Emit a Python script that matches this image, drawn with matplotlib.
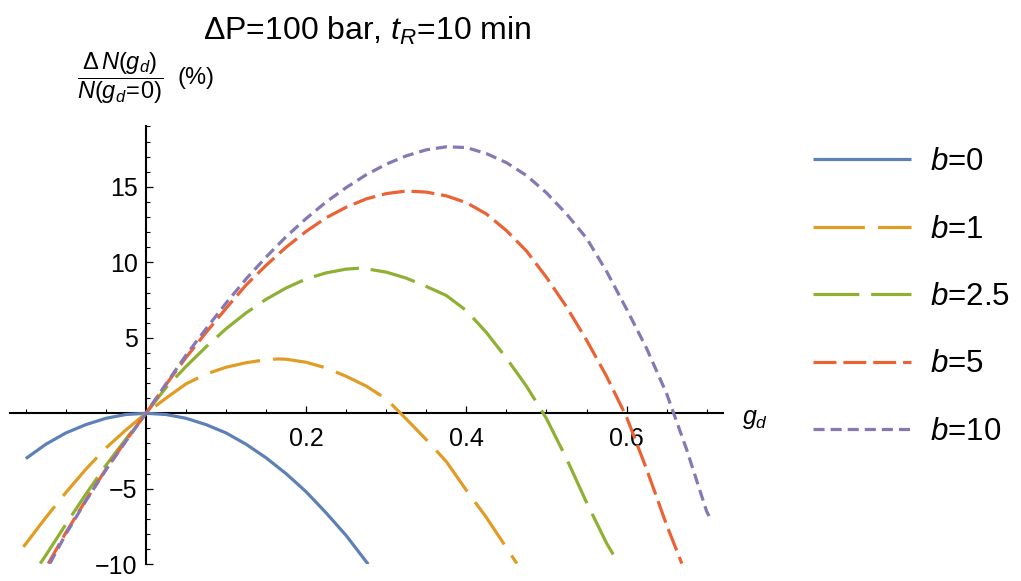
import matplotlib
matplotlib.use("Agg")
import matplotlib.pyplot as plt
import numpy as np

plt.rcParams['font.family'] = ['Liberation Sans', 'DejaVu Sans']
plt.rcParams['mathtext.fontset'] = 'custom'
plt.rcParams['mathtext.rm'] = 'Liberation Sans'
plt.rcParams['mathtext.it'] = 'Liberation Sans:italic'
plt.rcParams['mathtext.bf'] = 'Liberation Sans:bold'
plt.rcParams['lines.scale_dashes'] = False

# values
x_b0 = [-0.15, -0.125, -0.1, -0.075, -0.05, -0.025, 0, 0.025, 0.05, 0.075, 0.1,
        0.125, 0.15, 0.175, 0.2, 0.225, 0.25, 0.2775]
y_b0 = [-3.0, -2.05, -1.3, -0.75, -0.33, -0.08, 0, -0.08, -0.33, -0.75, -1.3,
        -2.05, -2.95, -4.0, -5.2, -6.6, -8.1, -10.0]

x_b1 = [-0.153, -0.125, -0.1, -0.075, -0.05, -0.025, 0, 0.025, 0.05, 0.075, 0.1,
        0.125, 0.15, 0.165, 0.175, 0.2, 0.225, 0.25, 0.275, 0.3, 0.325, 0.35,
        0.375, 0.4, 0.425, 0.45, 0.463]
y_b1 = [-8.85, -6.9, -5.25, -3.7, -2.3, -1.1, 0, 1.0, 1.95, 2.6, 3.05,
        3.35, 3.55, 3.6, 3.58, 3.38, 3.0, 2.45, 1.8, 0.95, -0.38, -1.75,
        -3.2, -5.1, -6.9, -8.9, -9.95]

x_b25 = [-0.132, -0.125, -0.1, -0.075, -0.05, -0.025, 0, 0.025, 0.05, 0.075, 0.1,
         0.125, 0.15, 0.175, 0.2, 0.225, 0.25, 0.265, 0.275, 0.3, 0.325, 0.35,
         0.375, 0.4, 0.425, 0.45, 0.475, 0.5, 0.525, 0.55, 0.575, 0.59]
y_b25 = [-9.95, -9.4, -7.35, -5.35, -3.45, -1.7, 0, 1.7, 3.1, 4.4, 5.6,
         6.65, 7.55, 8.3, 8.9, 9.3, 9.55, 9.6, 9.57, 9.35, 8.95, 8.4,
         7.8, 6.8, 5.35, 3.65, 1.8, -0.35, -3.0, -5.9, -8.6, -9.95]

x_b5 = [-0.122, -0.1, -0.075, -0.05, -0.025, 0, 0.025, 0.05, 0.075, 0.1, 0.125,
        0.15, 0.175, 0.2, 0.225, 0.25, 0.275, 0.3, 0.325, 0.35, 0.375, 0.4,
        0.425, 0.45, 0.475, 0.5, 0.525, 0.55, 0.575, 0.6, 0.625, 0.65, 0.669]
y_b5 = [-9.95, -7.9, -5.75, -3.7, -1.8, 0, 1.9, 3.7, 5.35, 6.95, 8.5,
        9.8, 11.0, 12.05, 12.95, 13.65, 14.2, 14.55, 14.72, 14.65, 14.4, 13.95,
        13.2, 12.1, 10.75, 9.0, 7.05, 4.85, 2.45, -0.25, -3.7, -7.4, -9.95]

x_b10 = [-0.12, -0.1, -0.075, -0.05, -0.025, 0, 0.025, 0.05, 0.075, 0.1, 0.125,
         0.15, 0.175, 0.2, 0.225, 0.25, 0.275, 0.3, 0.325, 0.35, 0.375, 0.4,
         0.425, 0.45, 0.475, 0.5, 0.525, 0.55, 0.575, 0.6, 0.625, 0.65, 0.675,
         0.7, 0.703]
y_b10 = [-9.95, -8.0, -5.8, -3.75, -1.85, 0, 1.95, 3.85, 5.6, 7.3, 8.9,
         10.35, 11.7, 12.9, 14.0, 14.95, 15.8, 16.5, 17.05, 17.45, 17.65, 17.6,
         17.2, 16.6, 15.75, 14.6, 13.2, 11.6, 9.4, 6.9, 4.3, 1.3, -2.4,
         -6.5, -6.8]

labels = ['$b$=0', '$b$=1', '$b$=2.5', '$b$=5', '$b$=10']
colors = ['#5E81B5', '#E19C24', '#8FB032', '#EB6235', '#8778B3']

xticks_major = [0.2, 0.4, 0.6]
yticks_major = [-10, -5, 5, 10, 15]

fig = plt.figure(figsize=(10.21, 5.81), dpi=100)
ax = fig.add_axes([9.8 / 1021, 1 - 564.3 / 581, 712.9 / 1021, 437.9 / 581])

lw = 2.3
series = [(x_b0, y_b0), (x_b1, y_b1), (x_b25, y_b25), (x_b5, y_b5), (x_b10, y_b10)]
dash_styles = [None, (0, (37, 9.5)), (0, (33, 8.5)), (0, (16.5, 5)), (0, (8, 4.3))]
for (xs, ys), lab, col, ds in zip(series, labels, colors, dash_styles):
    if ds is None:
        ax.plot(xs, ys, color=col, lw=lw, label=lab, zorder=3, solid_capstyle='butt')
    else:
        ax.plot(xs, ys, color=col, lw=lw, label=lab, zorder=3, linestyle=ds)

ax.set_xlim(-0.17, 0.72)
ax.set_ylim(-10, 19)

ax.spines['right'].set_color('none')
ax.spines['top'].set_color('none')
ax.spines['bottom'].set_position(('data', 0))
ax.spines['left'].set_position(('data', 0))
for s in ['bottom', 'left']:
    ax.spines[s].set_linewidth(1.5)
    ax.spines[s].set_color('black')

ax.set_xticks(xticks_major)
ax.set_xticklabels(['0.2', '0.4', '0.6'])
ax.set_xticks(np.arange(-0.15, 0.71, 0.05), minor=True)
ax.set_yticks(yticks_major)
ax.set_yticklabels(['\u221210', '\u22125', '5', '10', '15'])
ax.set_yticks(np.arange(-10, 20, 1), minor=True)

ax.tick_params(which='major', direction='in', length=5, width=0.9, labelsize=18,
               colors='black')
ax.tick_params(which='minor', direction='in', length=2.6, width=0.8)
ax.tick_params(axis='x', which='major', pad=10)
ax.tick_params(axis='y', which='major', pad=6)

ax.text(0.744, -0.4, '$g_d$', fontsize=18, va='center', ha='left', clip_on=False)

fig.text(77 / 1021, 1 - 78 / 581, r'$\dfrac{\Delta\,N(g_d)}{N(g_d\!=\!0)}$  (%)',
         fontsize=17, ha='left', va='center')

fig.text(367 / 1021, 1 - 31 / 581, 'ΔP=100 bar, $t_R$=10 min', fontsize=23,
         ha='center', va='center')

fig.legend(loc='upper left', bbox_to_anchor=(813 / 1021, 1 - 147 / 581),
           frameon=False, fontsize=22.5, handlelength=3.15, handletextpad=0.6,
           labelspacing=1.2, borderpad=0, borderaxespad=0)

fig.savefig('out.png', dpi=100)
